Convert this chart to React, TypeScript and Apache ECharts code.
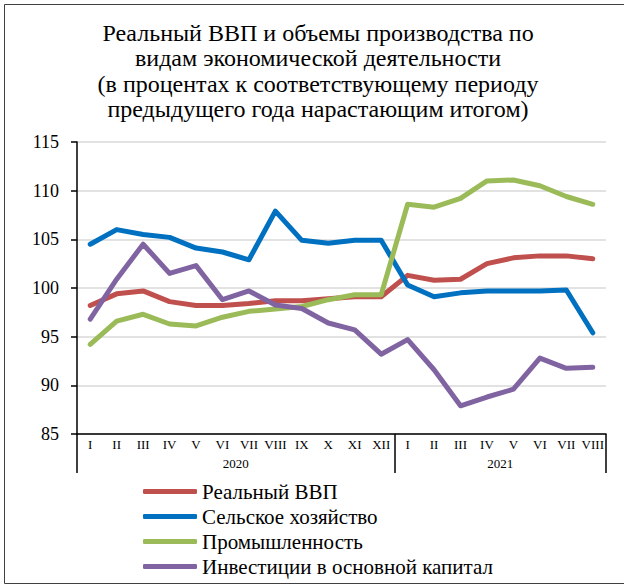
import React, { useEffect, useRef } from "react";
import * as echarts from "echarts";

const months = ["I", "II", "III", "IV", "V", "VI", "VII", "VIII", "IX", "X", "XI", "XII", "I", "II", "III", "IV", "V", "VI", "VII", "VIII"];
const yearSlots = ["", "", "", "", "", "", "2020", "", "", "", "", "", "", "", "", "", "2021", "", "", "", ""];
const yearTickIdx = [0, 12, 20];

const gdp = [98.2, 99.4, 99.7, 98.6, 98.2, 98.2, 98.4, 98.7, 98.7, 98.9, 99.1, 99.1, 101.3, 100.8, 100.9, 102.5, 103.1, 103.3, 103.3, 103.0];
const agri = [104.5, 106.0, 105.5, 105.2, 104.1, 103.7, 102.9, 107.9, 104.9, 104.6, 104.9, 104.9, 100.3, 99.1, 99.5, 99.7, 99.7, 99.7, 99.8, 95.4];
const industry = [94.2, 96.6, 97.3, 96.3, 96.1, 97.0, 97.6, 97.85, 98.1, 98.8, 99.3, 99.3, 108.6, 108.3, 109.2, 111.0, 111.1, 110.5, 109.4, 108.6];
const invest = [96.8, 100.9, 104.5, 101.5, 102.3, 98.8, 99.7, 98.25, 97.9, 96.4, 95.7, 93.2, 94.7, 91.6, 87.9, 88.8, 89.6, 92.8, 91.75, 91.85];

const seriesNames = ["Реальный ВВП", "Сельское хозяйство", "Промышленность", "Инвестиции в основной капитал"];
const seriesColors = ["#C0504D", "#0070C0", "#9BBB59", "#8064A2"];
const seriesData = [gdp, agri, industry, invest];

const titleText = "Реальный ВВП и объемы производства по\nвидам экономической деятельности\n(в процентах к соответствующему периоду\nпредыдущего года нарастающим итогом)";

const FONT = "'Liberation Serif', 'Times New Roman', serif";

export default function App() {
  const ref = useRef<HTMLDivElement>(null);
  useEffect(() => {
    document.body.style.margin = "0";
    const chart = echarts.init(ref.current!, null, { renderer: "svg" });
    chart.setOption({
      animation: false,
      backgroundColor: "#ffffff",
      title: {
        text: titleText,
        left: 318,
        top: 20,
        padding: 0,
        textAlign: "center",
        textStyle: { fontFamily: FONT, fontSize: 24, fontWeight: "normal", color: "#000", lineHeight: 25.5 },
      },
      graphic: [
        { type: "rect", shape: { x: 4.5, y: 4.5, width: 630, height: 579 }, style: { fill: "none", stroke: "#404040", lineWidth: 1 }, silent: true },
      ],
      legend: {
        orient: "vertical",
        left: 143,
        top: 481,
        padding: 0,
        itemWidth: 54,
        itemHeight: 5,
        itemGap: 4,
        icon: "roundRect",
        textStyle: { fontFamily: FONT, fontSize: 21, color: "#000", lineHeight: 20 },
        data: seriesNames,
      },
      grid: { left: 77, right: 18, top: 142, bottom: 152 },
      xAxis: [
        {
          type: "category",
          data: months,
          boundaryGap: true,
          axisLine: { show: true, lineStyle: { color: "#000", width: 1.5 } },
          axisTick: { show: false },
          axisLabel: { interval: 0, fontFamily: FONT, fontSize: 13, color: "#000", margin: 4 },
          splitLine: { show: false },
        },
        {
          type: "category",
          data: yearSlots,
          boundaryGap: false,
          position: "bottom",
          axisLine: { show: false },
          axisTick: {
            show: true,
            length: 39,
            interval: (i: number) => yearTickIdx.indexOf(i) >= 0,
            lineStyle: { color: "#000", width: 1.5 },
          },
          axisLabel: {
            interval: (i: number, v: string) => v !== "",
            fontFamily: FONT,
            fontSize: 13,
            color: "#000",
            margin: 23,
          },
          splitLine: { show: false },
        },
      ],
      yAxis: {
        type: "value",
        min: 85,
        max: 115,
        interval: 5,
        axisLine: { show: true, lineStyle: { color: "#000", width: 1.5 } },
        axisTick: { show: true, length: 6, lineStyle: { color: "#000", width: 1.5 } },
        axisLabel: { fontFamily: FONT, fontSize: 18, color: "#000", margin: 18 },
        splitLine: { show: true, lineStyle: { color: "#D9D9D9", width: 1.5 } },
      },
      series: seriesNames.map((name, k) => ({
        name,
        type: "line",
        data: seriesData[k],
        xAxisIndex: 0,
        showSymbol: false,
        symbol: "none",
        color: seriesColors[k],
        lineStyle: { width: 5, color: seriesColors[k], cap: "round", join: "round" },
      })),
    });
    return () => chart.dispose();
  }, []);
  return <div ref={ref} style={{ position: "absolute", left: 0, top: 0, width: 624, height: 586 }} />;
}
